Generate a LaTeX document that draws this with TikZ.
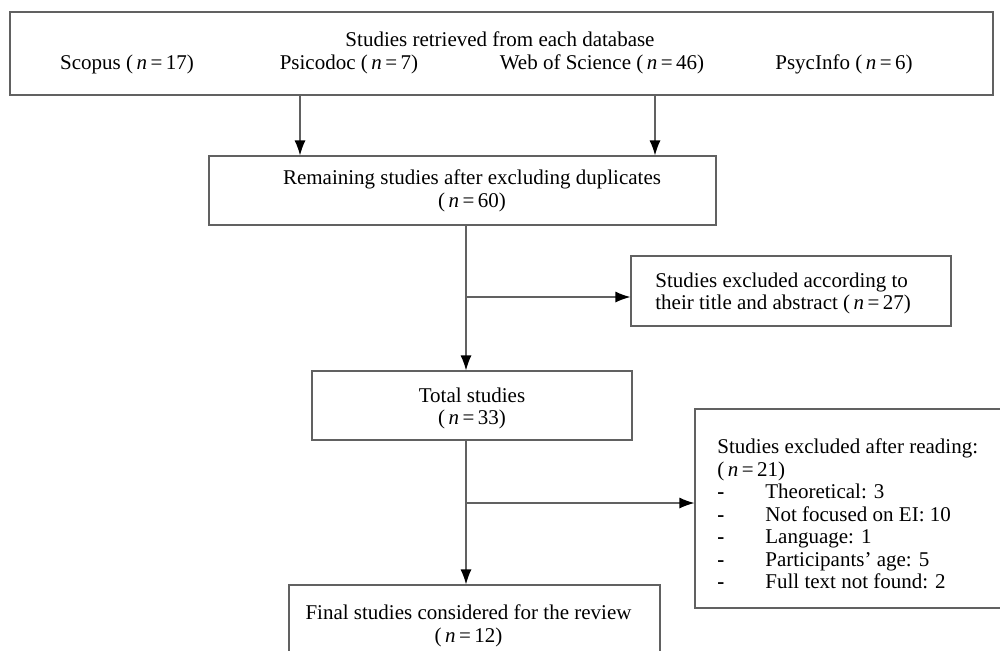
\documentclass[tikz,border=0pt]{standalone}
\usepackage{fontspec}
\setmainfont{Liberation Serif}
\usetikzlibrary{arrows.meta}

\definecolor{boxgray}{gray}{0.38}
\newcommand{\nval}[1]{(\,\textit{n}\,=\,#1)}
\newcommand{\dashitem}[1]{\makebox[24pt][l]{\textbf{-}}#1}

\tikzset{
  box/.style={draw=boxgray, line width=0.6pt, inner sep=0pt},
  txt/.style={font=\fontsize{10.5}{11.25}\selectfont, inner sep=0pt},
  link/.style={draw=boxgray, line width=0.6pt, -{Latex[length=7.5pt,width=5.5pt,black]}},
}

\begin{document}
\begin{tikzpicture}[x=0.5pt,y=-0.5pt]
  \useasboundingbox (0,0) rectangle (1000,650);

  % Bases de datos
  \node[box, minimum width=491.5pt, minimum height=41.5pt] (db) at (501.5,53.5) {};
  \node[txt, anchor=base] (dbtitle) at (500,46.5) {Studies retrieved from each database};
  \node[txt, anchor=base] (scopus) at (127,69) {Scopus \nval{17}};
  \node[txt, anchor=base] (psicodoc) at (349,69) {Psicodoc \nval{7}};
  \node[txt, anchor=base] (wos) at (602,69) {Web of Science \nval{46}};
  \node[txt, anchor=base] (psycinfo) at (844,69) {PsycInfo \nval{6}};

  % Cajas del flujo
  \node[box, minimum width=253.5pt, minimum height=34.5pt] (rem) at (462.5,190.5) {};
  \node[txt, anchor=north, align=center] (remtxt) at (472,169.5)
    {Remaining studies after excluding duplicates\\ \nval{60}};

  \node[box, minimum width=160pt, minimum height=35pt] (excl1) at (791,291) {};
  \node[txt, anchor=north west, align=left] (excl1txt) at (655,272.5)
    {Studies excluded according to\\ their title and abstract \nval{27}};

  \node[box, minimum width=160pt, minimum height=34.5pt] (total) at (472,405.5) {};
  \node[txt, anchor=north, align=center] (totaltxt) at (472,387.5)
    {Total studies\\ \nval{33}};

  \node[box, minimum width=157.5pt, minimum height=99.5pt] (excl2) at (852.5,508.5) {};
  \node[txt, anchor=north west, align=left] (excl2txt) at (717,438.5)
    {Studies excluded after reading:\\ \nval{21}\\
     \dashitem{Theoretical: 3}\\ \dashitem{Not focused on EI: 10}\\
     \dashitem{Language: 1}\\ \dashitem{Participants' age: 5}\\
     \dashitem{Full text not found: 2}};

  \node[box, minimum width=185.5pt, minimum height=35pt] (final) at (474.5,620) {};
  \node[txt, anchor=north, align=center] (finaltxt) at (468.5,604.5)
    {Final studies considered for the review\\ \nval{12}};

  % Flechas
  \coordinate (c1) at (300,0);
  \coordinate (c2) at (655,0);
  \coordinate (c3) at (466,0);
  \coordinate (j1) at (466,297);
  \coordinate (j2) at (466,503);
  \draw[link] (db.south -| c1) -- (rem.north -| c1);
  \draw[link] (db.south -| c2) -- (rem.north -| c2);
  \draw[link] (rem.south -| c3) -- (total.north -| c3);
  \draw[link] (j1) -- (j1 -| excl1.west);
  \draw[link] (total.south -| c3) -- (final.north -| c3);
  \draw[link] (j2) -- (j2 -| excl2.west);
\end{tikzpicture}
\end{document}
